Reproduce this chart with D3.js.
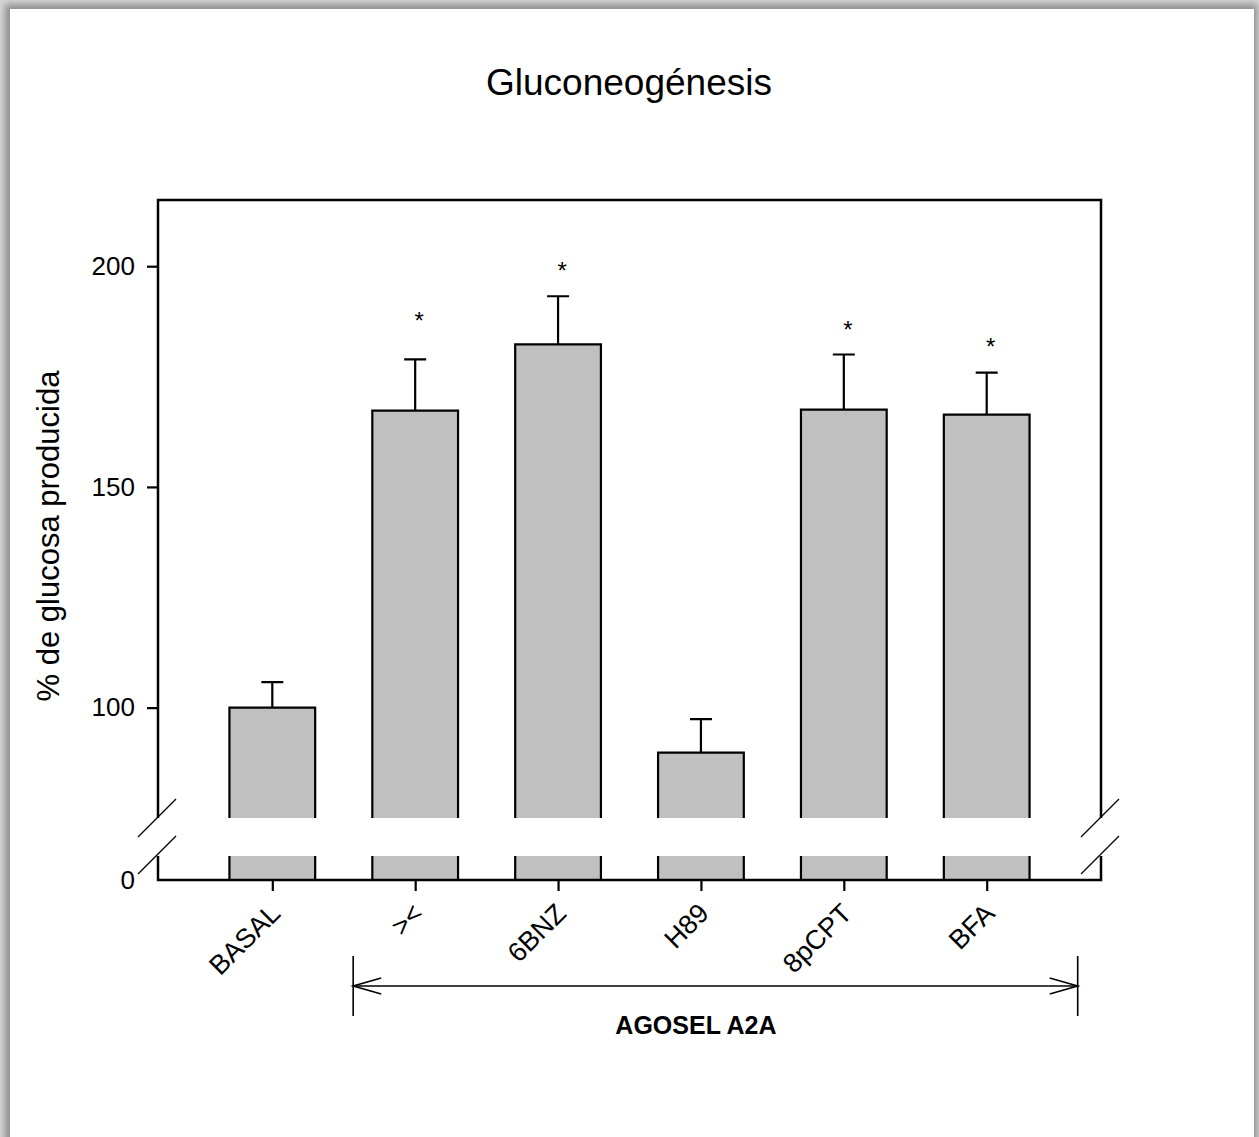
<!DOCTYPE html>
<html>
<head>
<meta charset="utf-8">
<script src="https://cdn.jsdelivr.net/npm/d3@7"></script>
<style>
  html, body { margin: 0; padding: 0; background: #ffffff; }
  svg { display: block; }
  text { font-family: "Liberation Sans", Arial, sans-serif; fill: #000; }
</style>
</head>
<body>
<svg id="chart" width="1259" height="1137"></svg>
<script>
// ---- data ----
const categories = ["BASAL", "><", "6BNZ", "H89", "8pCPT", "BFA"];
const means      = [100, 167.3, 182.3, 89.8, 167.5, 166.4];
const errors     = [5.8, 11.6, 10.9, 7.6, 12.5, 9.5];
const significant = [false, true, true, false, true, true];
const asteriskAt  = [null, 188.6, 199.8, null, 186.4, 182.6];
const yTicksUpper = [100, 150, 200];
const yTicksLower = [0];
const title = "Gluconeogénesis";
const yLabel = "% de glucosa producida";
const groupLabel = "AGOSEL A2A";
const groupStart = "><";
const groupEnd = "BFA";

// ---- layout ----
const svg = d3.select("#chart");
const W = 1259, H = 1137;
const plotL = 158, plotR = 1101, plotT = 200, plotB = 880;
const breakTop = 818, breakBot = 856;

// page with shadow
const defs = svg.append("defs");
const f = defs.append("filter").attr("id", "shadow").attr("x", "-5%").attr("y", "-5%").attr("width", "110%").attr("height", "110%");
f.append("feGaussianBlur").attr("stdDeviation", 3.5);
svg.append("rect").attr("width", W).attr("height", H).attr("fill", "#d6d6d6");
svg.append("rect").attr("x", 5).attr("y", 4).attr("width", 1252).attr("height", H + 20)
  .attr("fill", "#8e8e8e").attr("filter", "url(#shadow)");
svg.append("rect").attr("x", 10).attr("y", 9).attr("width", 1244).attr("height", H).attr("fill", "#ffffff");

// scales
const x = d3.scalePoint().domain(categories).range([plotL, plotR]).padding(0.8);
const step = x.step();
const barW = step * 0.6;
const yU = d3.scaleLinear().domain([75, 215]).range([breakTop, plotT]);
const yL = d3.scaleLinear().domain([0, 5]).range([plotB, breakBot]);

const g = svg.append("g");

// bars (fill)
const bars = g.selectAll("g.bar").data(categories.map((c, i) => ({c, i, v: means[i], e: errors[i]})))
  .enter().append("g").attr("class", "bar");
bars.append("rect")
  .attr("x", d => x(d.c) - barW / 2).attr("width", barW)
  .attr("y", d => yU(d.v)).attr("height", d => breakTop - yU(d.v))
  .attr("fill", "#c0c0c0");
bars.append("rect")
  .attr("x", d => x(d.c) - barW / 2).attr("width", barW)
  .attr("y", yL(5)).attr("height", plotB - yL(5))
  .attr("fill", "#c0c0c0");
// bar outlines (no bottom edge at break)
bars.append("path")
  .attr("d", d => {
    const x0 = x(d.c) - barW / 2, x1 = x(d.c) + barW / 2, yt = yU(d.v);
    return `M${x0},${breakTop}V${yt}H${x1}V${breakTop}`;
  })
  .attr("fill", "none").attr("stroke", "#000").attr("stroke-width", 2.2);
bars.append("path")
  .attr("d", d => {
    const x0 = x(d.c) - barW / 2, x1 = x(d.c) + barW / 2;
    return `M${x0},${yL(5)}V${plotB}M${x1},${yL(5)}V${plotB}`;
  })
  .attr("fill", "none").attr("stroke", "#000").attr("stroke-width", 2.2);
// error bars (upper only)
bars.append("path")
  .attr("d", d => {
    const cx = x(d.c), yt = yU(d.v), ye = yU(d.v + d.e), cw = 11;
    return `M${cx},${yt}V${ye}M${cx - cw},${ye}H${cx + cw}`;
  })
  .attr("fill", "none").attr("stroke", "#000").attr("stroke-width", 2.2);
// asterisks
bars.filter(d => significant[d.i]).append("text")
  .attr("x", d => x(d.c) + 4).attr("y", d => yU(asteriskAt[d.i]) + 12)
  .attr("text-anchor", "middle").attr("font-size", 24).text("*");

// frame
g.append("path")
  .attr("d", `M${plotL},${breakTop}V${plotT}H${plotR}V${breakTop}` +
             `M${plotL},${breakBot}V${plotB}H${plotR}V${breakBot}`)
  .attr("fill", "none").attr("stroke", "#000").attr("stroke-width", 2.5);

// break marks
[plotL, plotR].forEach(ax => {
  [breakTop, breakBot - 1].forEach(by => {
    g.append("line")
      .attr("x1", ax - 20).attr("y1", by + 19)
      .attr("x2", ax + 18).attr("y2", by - 19)
      .attr("stroke", "#000").attr("stroke-width", 1.3);
  });
});

// y axes
const axU = g.append("g").attr("transform", `translate(${plotL},0)`)
  .call(d3.axisLeft(yU).tickValues(yTicksUpper).tickSize(11).tickPadding(12).tickFormat(d3.format("d")));
const axL = g.append("g").attr("transform", `translate(${plotL},0)`)
  .call(d3.axisLeft(yL).tickValues(yTicksLower).tickSize(0).tickPadding(23).tickFormat(d3.format("d")));
[axU, axL].forEach(a => {
  a.select(".domain").remove();
  a.selectAll(".tick line").attr("stroke", "#000").attr("stroke-width", 2.2);
  a.selectAll(".tick text").attr("font-size", 26).attr("font-family", "Liberation Sans, Arial, sans-serif").attr("fill", "#000");
});

// x axis
const axX = g.append("g").attr("transform", `translate(0,${plotB})`)
  .call(d3.axisBottom(x).tickSize(11).tickFormat(d => d));
axX.select(".domain").remove();
axX.selectAll(".tick line").attr("stroke", "#000").attr("stroke-width", 2.2);
axX.selectAll(".tick text")
  .attr("font-size", 27).attr("font-family", "Liberation Sans, Arial, sans-serif").attr("fill", "#000")
  .attr("text-anchor", "end")
  .attr("dy", 0).attr("y", 0)
  .attr("transform", "translate(9,35) rotate(-45)");

// title
svg.append("text").attr("x", 629).attr("y", 95).attr("text-anchor", "middle")
  .attr("font-size", 37).text(title);

// y label
svg.append("text").attr("transform", `translate(59,536) rotate(-90)`)
  .attr("text-anchor", "middle").attr("font-size", 31).text(yLabel);

// group arrow
const gx0 = x(groupStart) - 62, gx1 = x(groupEnd) + 91, gy = 986;
const ga = svg.append("g").attr("stroke", "#000").attr("fill", "none").attr("stroke-width", 1.6);
ga.append("line").attr("x1", gx0).attr("x2", gx1).attr("y1", gy).attr("y2", gy);
ga.append("line").attr("x1", gx0).attr("x2", gx0).attr("y1", gy - 30).attr("y2", gy + 30);
ga.append("line").attr("x1", gx1).attr("x2", gx1).attr("y1", gy - 30).attr("y2", gy + 30);
ga.append("path").attr("d", `M${gx0 + 28},${gy - 8}L${gx0},${gy}L${gx0 + 28},${gy + 8}`);
ga.append("path").attr("d", `M${gx1 - 28},${gy - 8}L${gx1},${gy}L${gx1 - 28},${gy + 8}`);
svg.append("text").attr("x", (x(groupStart) + x(groupEnd)) / 2 - 5).attr("y", 1034).attr("text-anchor", "middle")
  .attr("font-size", 25).attr("font-weight", "bold").text(groupLabel);
</script>
</body>
</html>
